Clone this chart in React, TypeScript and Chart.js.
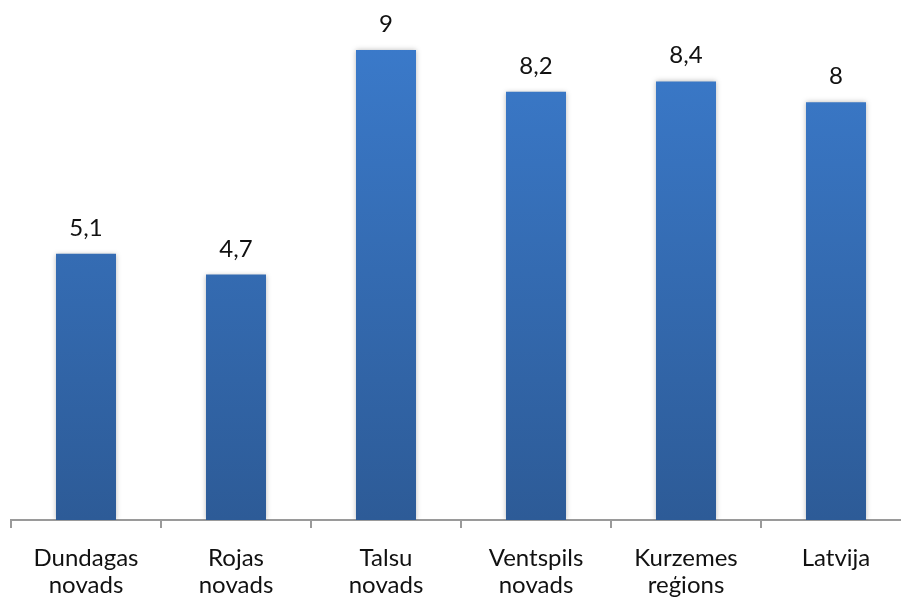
import React, { useEffect, useRef } from "react";
import { Chart, registerables } from "chart.js";

Chart.register(...registerables);

const categories: string[][] = [
  ["Dundagas", "novads"],
  ["Rojas", "novads"],
  ["Talsu", "novads"],
  ["Ventspils", "novads"],
  ["Kurzemes", "reģions"],
  ["Latvija"],
];
const values: number[] = [5.1, 4.7, 9, 8.2, 8.4, 8];
const valueLabels: string[] = ["5,1", "4,7", "9", "8,2", "8,4", "8"];

const FONT = "Lato, 'Open Sans', sans-serif";

const shadowPlugin = {
  id: "barShadow",
  beforeDatasetsDraw(chart: any) {
    const ctx = chart.ctx;
    ctx.save();
    ctx.shadowColor = "rgba(0,0,0,0.28)";
    ctx.shadowBlur = 5;
    ctx.shadowOffsetX = 0;
    ctx.shadowOffsetY = 0;
  },
  afterDatasetsDraw(chart: any) {
    chart.ctx.restore();
  },
};

const labelPlugin = {
  id: "valueLabels",
  afterDatasetsDraw(chart: any) {
    const ctx = chart.ctx;
    const meta = chart.getDatasetMeta(0);
    ctx.save();
    ctx.font = `24px ${FONT}`;
    ctx.fillStyle = "#111111";
    ctx.textAlign = "center";
    ctx.textBaseline = "alphabetic";
    meta.data.forEach((bar: any, i: number) => {
      ctx.fillText(valueLabels[i], bar.x, bar.y - 18);
    });
    ctx.restore();
  },
};

export default function App() {
  const ref = useRef<HTMLCanvasElement | null>(null);

  useEffect(() => {
    const canvas = ref.current;
    if (!canvas) return;
    const chart = new Chart(canvas, {
      type: "bar",
      data: {
        labels: categories,
        datasets: [
          {
            data: values,
            backgroundColor: (c: any) => {
              const area = c.chart.chartArea;
              if (!area) return "#3a78c8";
              const g = c.chart.ctx.createLinearGradient(0, area.top, 0, area.bottom);
              g.addColorStop(0, "#3b7bcc");
              g.addColorStop(1, "#2d5b97");
              return g;
            },
            borderWidth: 0,
            categoryPercentage: 1,
            barPercentage: 0.4,
          },
        ],
      },
      options: {
        animation: false,
        responsive: false,
        maintainAspectRatio: false,
        layout: { padding: { left: 11, right: 0, top: 24, bottom: 0 } },
        plugins: {
          legend: { display: false },
          tooltip: { enabled: false },
        },
        scales: {
          x: {
            afterFit: (scale: any) => {
              scale.height = 79;
            },
            grid: {
              display: true,
              drawOnChartArea: false,
              drawTicks: true,
              tickLength: 8,
              color: "#9a9a9a",
              lineWidth: 2,
            },
            border: { display: true, color: "#9a9a9a", width: 2 },
            ticks: {
              color: "#111111",
              font: { family: FONT, size: 24, lineHeight: 1.15 },
              padding: 16,
              maxRotation: 0,
              autoSkip: false,
            },
          },
          y: {
            display: false,
            min: 0,
            max: 9.5,
          },
        },
      },
      plugins: [shadowPlugin, labelPlugin],
    });
    return () => chart.destroy();
  }, []);

  return (
    <div
      style={{
        position: "fixed",
        left: 0,
        top: 0,
        width: 901,
        height: 599,
        overflow: "hidden",
        background: "#ffffff",
      }}
    >
      <canvas ref={ref} width={911} height={599} style={{ display: "block" }} />
    </div>
  );
}
